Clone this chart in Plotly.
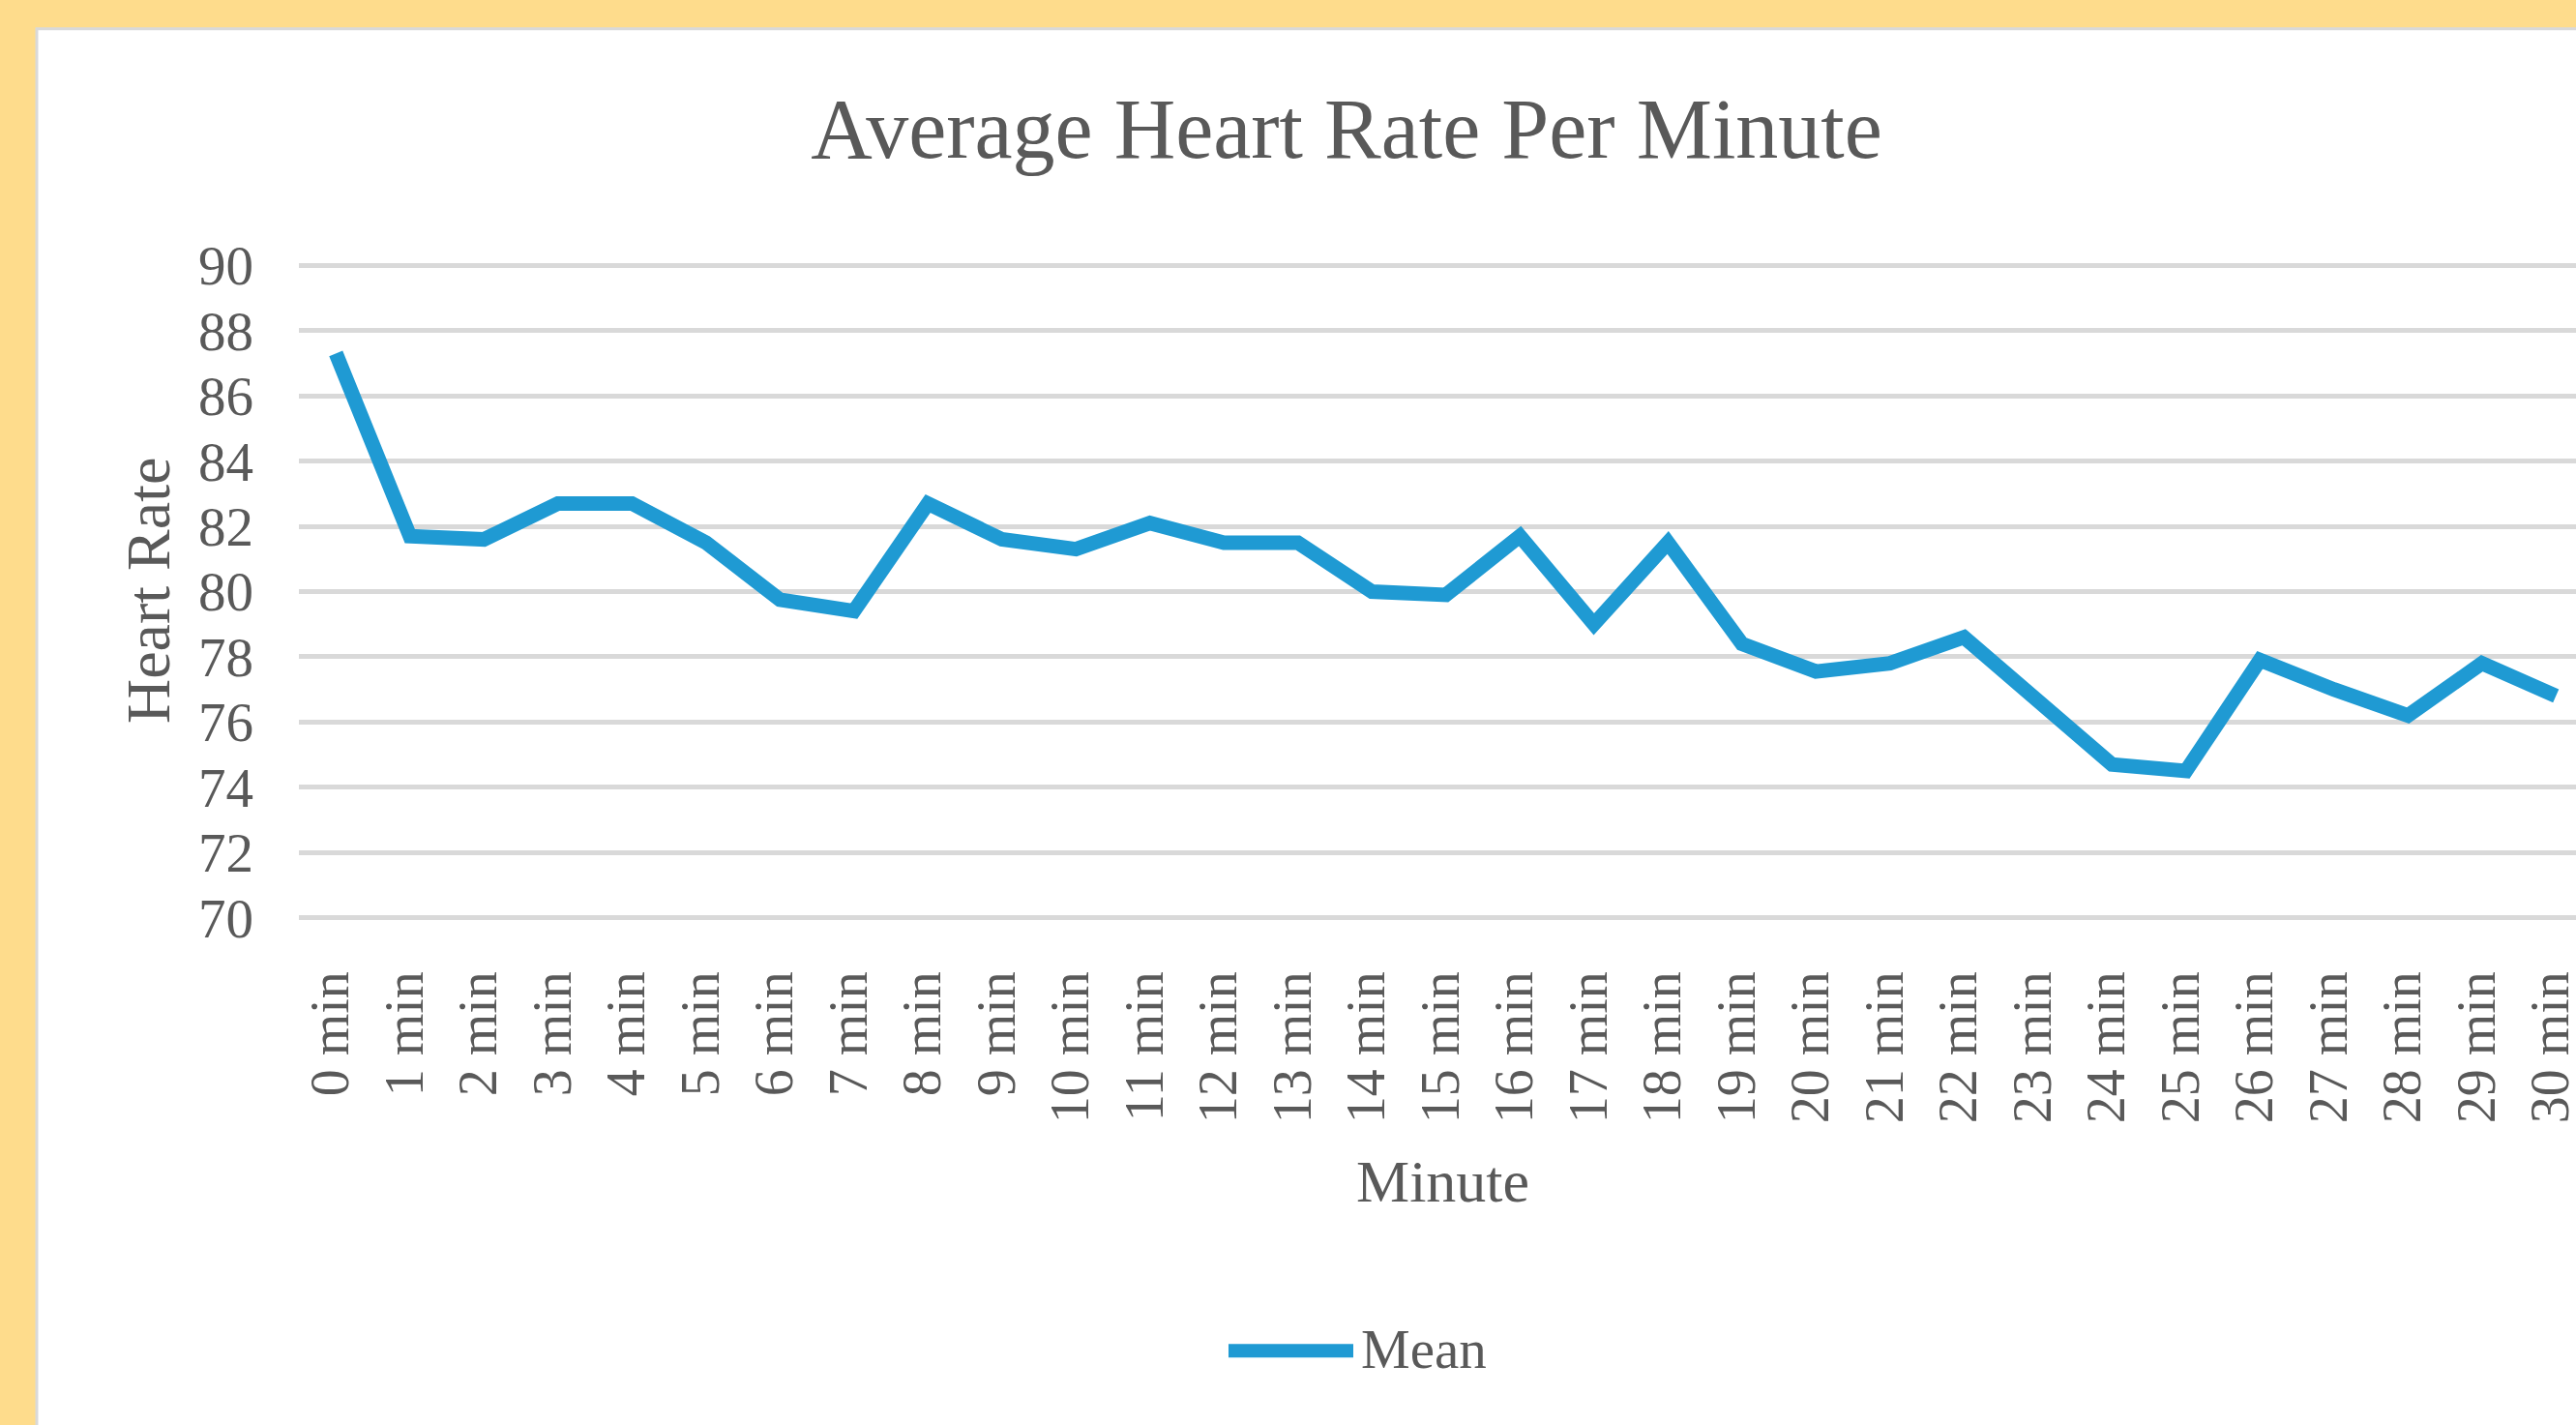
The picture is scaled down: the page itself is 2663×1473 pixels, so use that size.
import plotly.graph_objects as go

minutes = [f"{i} min" for i in range(31)]
mean_hr = [87.3, 81.7, 81.6, 82.7, 82.7, 81.5, 79.75, 79.4, 82.7, 81.6,
           81.3, 82.1, 81.5, 81.5, 80.0, 79.9, 81.7, 79.0, 81.5, 78.4,
           77.55, 77.8, 78.6, 76.6, 74.7, 74.5, 77.9, 77.0, 76.2, 77.8, 76.8]
y_ticks = [70, 72, 74, 76, 78, 80, 82, 84, 86, 88, 90]

W, H = 2663, 1473
L, R_EDGE = 309, 2663
PPU = 33.75          # pixels per heart-rate unit
Y90, Y70 = 274, 949  # pixel rows of the 90 and 70 gridlines
PAD = 0.1
TOP = Y90 - PAD * PPU
BOT = Y70 + PAD * PPU
BIN = 76.5

FONT = "Liberation Serif, Times New Roman, serif"
GRAY = "#595959"
BLUE = "#1F9AD3"


def px_x(px):
    return (px - L) / (R_EDGE - L)


def px_y(py):
    return (BOT - py) / (BOT - TOP)


fig = go.Figure()
fig.add_trace(go.Scatter(
    x=list(range(len(minutes))), y=mean_hr, mode="lines", name="Mean",
    line=dict(color=BLUE, width=15), showlegend=False,
))

xmax = -0.5 + (R_EDGE - L) / BIN

fig.update_layout(
    width=W, height=H,
    margin=dict(l=L, r=W - R_EDGE, t=TOP, b=H - BOT, autoexpand=False),
    paper_bgcolor="#FEDC8C",
    plot_bgcolor="rgba(0,0,0,0)",
    font=dict(family=FONT, color=GRAY),
    title=dict(text="Average Heart Rate Per Minute", xref="container", yref="container",
               x=1392 / W, y=1 - 132 / H, xanchor="center", yanchor="middle",
               font=dict(size=88, color=GRAY, family=FONT)),
    xaxis=dict(
        range=[-0.5, xmax], tickmode="array",
        tickvals=list(range(len(minutes))), ticktext=minutes,
        tickangle=-90, showgrid=False, zeroline=False, showline=False,
        ticks="", ticklabelstandoff=40, ticklabeloverflow="allow",
        ticklabelshift=-5,
        tickfont=dict(size=56, color=GRAY, family=FONT),
        fixedrange=True,
    ),
    yaxis=dict(
        range=[70 - PAD, 90 + PAD], tickmode="array", tickvals=y_ticks,
        ticktext=[str(v) for v in y_ticks],
        showgrid=True, gridcolor="#D9D9D9", gridwidth=5,
        zeroline=False, showline=False, ticks="", ticklabelstandoff=46,
        tickfont=dict(size=57, color=GRAY, family=FONT),
        fixedrange=True,
    ),
    shapes=[
        dict(type="rect", xref="paper", yref="paper", layer="below",
             x0=px_x(38), x1=px_x(2700), y0=px_y(1500), y1=px_y(29),
             fillcolor="white", line=dict(color="#D9D9D9", width=3)),
        dict(type="line", xref="paper", yref="paper",
             x0=px_x(1270), x1=px_x(1399), y0=px_y(1397), y1=px_y(1397),
             line=dict(color=BLUE, width=14)),
    ],
    annotations=[
        dict(text="Heart Rate", xref="paper", yref="paper",
             x=px_x(153), y=px_y(611), textangle=-90, showarrow=False,
             xanchor="center", yanchor="middle",
             font=dict(size=64, color=GRAY, family=FONT)),
        dict(text="Minute", xref="paper", yref="paper",
             x=px_x(1491), y=px_y(1222), showarrow=False,
             xanchor="center", yanchor="middle",
             font=dict(size=62, color=GRAY, family=FONT)),
        dict(text="Mean", xref="paper", yref="paper",
             x=px_x(1405), y=px_y(1395), showarrow=False,
             xanchor="left", yanchor="middle",
             font=dict(size=57, color=GRAY, family=FONT)),
    ],
)

fig.write_html("out.html", config={"displayModeBar": False},
               post_script="document.body.style.margin='0';document.body.style.overflow='hidden';")
